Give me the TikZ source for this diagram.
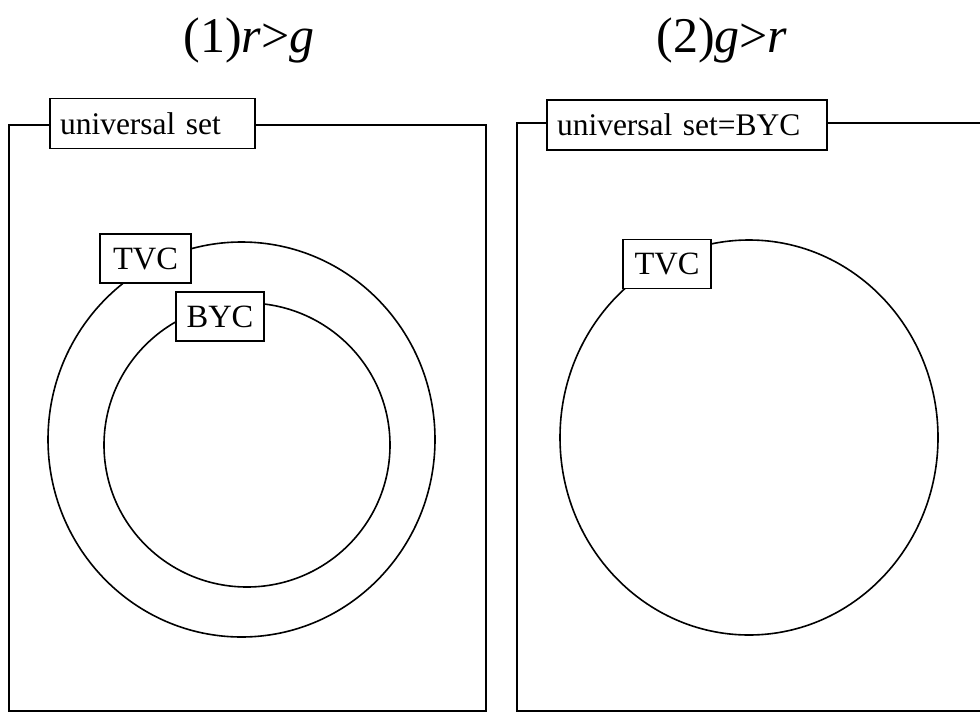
\documentclass[tikz,border=0pt]{standalone}
\usepackage{fontspec}
\setmainfont{Liberation Serif}
\usetikzlibrary{shapes.geometric}
\begin{document}
\begin{tikzpicture}[x=1pt,y=-1pt,
  lw/.style={line width=1.6pt},
  frame/.style={lw,draw=black},
  setlabel/.style={lw,draw=black,fill=white,inner xsep=10pt,inner ysep=0pt,
    minimum height=50pt,font=\fontsize{31.5}{34}\selectfont,align=left},
  tag/.style={lw,draw=black,fill=white,inner sep=0pt,minimum height=49pt,
    font=\fontsize{32.5}{35}\selectfont},
  setshape/.style={lw,draw=black,ellipse,inner sep=0pt},
  title/.style={anchor=base,inner sep=0pt,font=\fontsize{50}{56}\selectfont}]
\useasboundingbox (0,0) rectangle (980,712);
% titles
\node[title] (t1) at (249,52) {(1)\textit{r}>\textit{g}};
\node[title] (t2) at (722,52) {(2)\textit{g}>\textit{r}};
% frames
\draw[frame] (486,711) -- (486,125) -- (9,125) -- (9,711) -- cycle;
\draw[frame] (990,711) -- (990,123) -- (517,123) -- (517,711) -- cycle;
% set circles
\node[setshape,minimum width=387pt,minimum height=395pt] (tvc1) at (241.5,439.5) {};
\node[setshape,minimum width=286pt,minimum height=284pt] (byc1) at (247,445) {};
\node[setshape,minimum width=378pt,minimum height=395pt] (tvc2) at (749,437.5) {};
% labels
\node[setlabel,text width=185pt] (u1) at (152.5,123.5) {universal set};
\node[setlabel,text width=260pt] (u2) at (687,125) {universal set=BYC};
\node[tag,minimum width=91pt] (l1) at (145.5,258.5) {TVC};
\node[tag,minimum width=88pt] (l2) at (220,316.5) {BYC};
\node[tag,minimum width=88pt] (l3) at (667,264) {TVC};
\end{tikzpicture}
\end{document}
